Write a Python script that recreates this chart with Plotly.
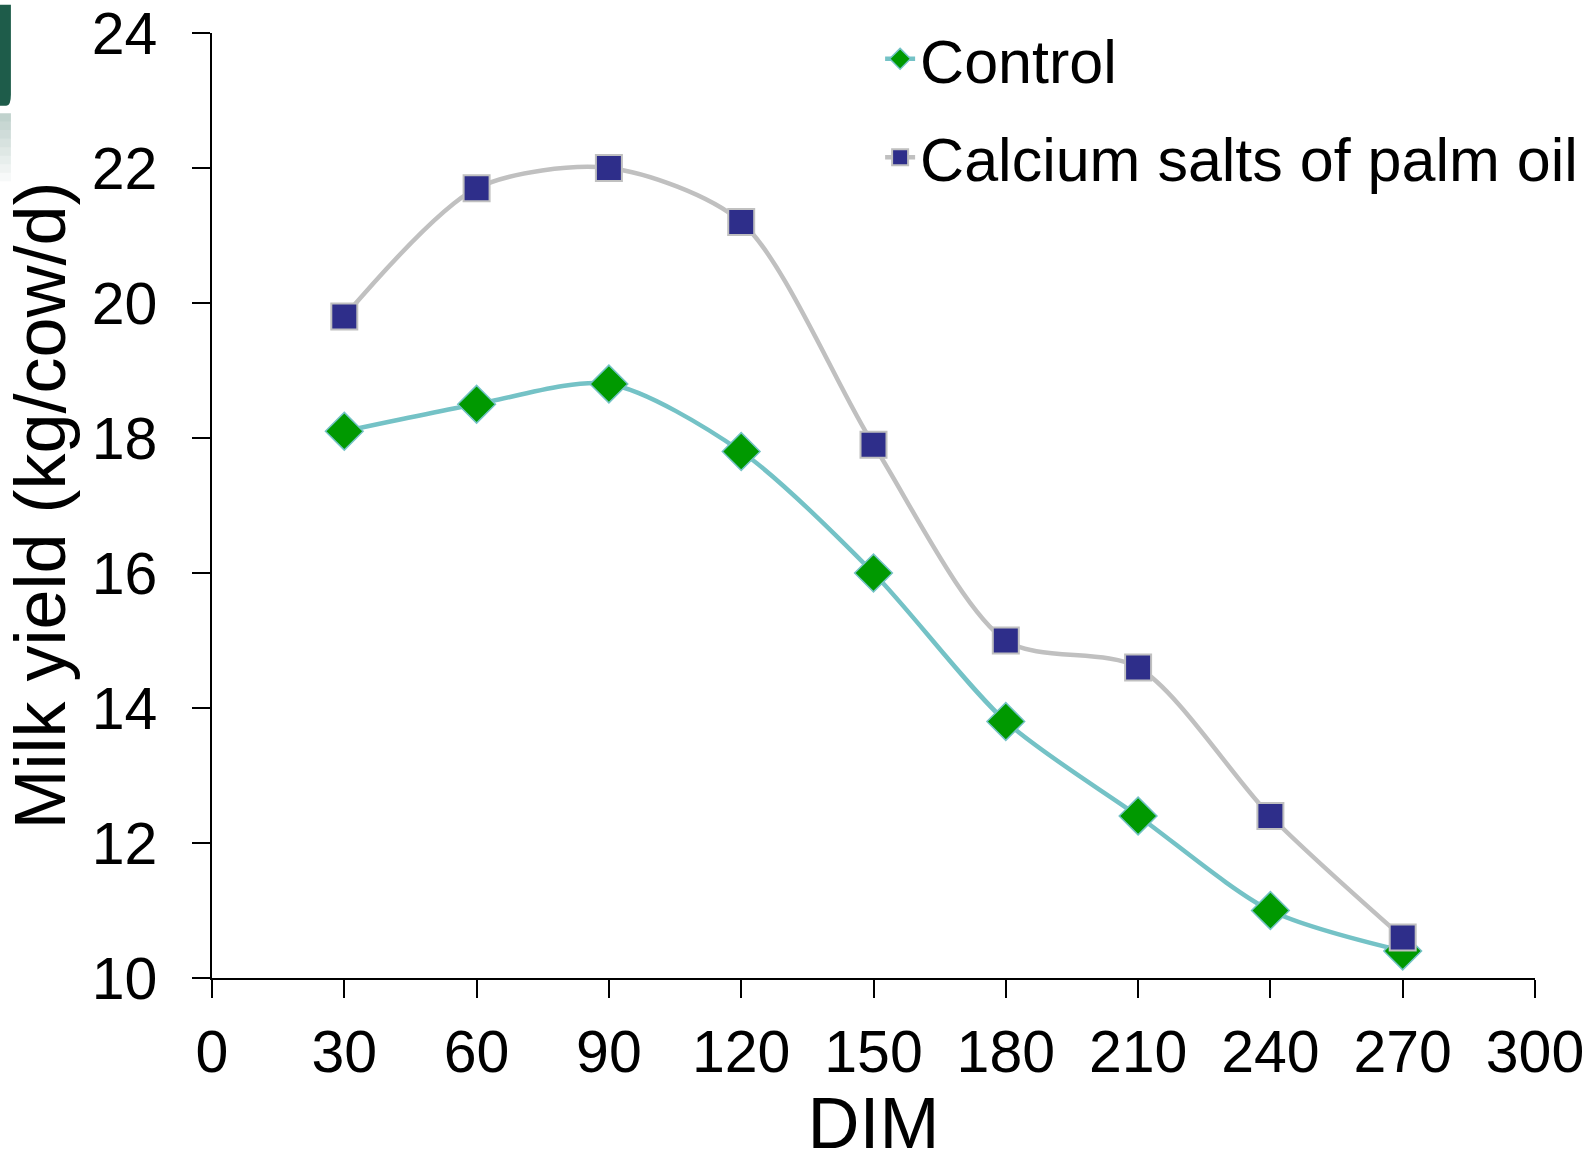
import plotly.graph_objects as go

dim = [30, 60, 90, 120, 150, 180, 210, 240, 270]
control = [18.1, 18.5, 18.8, 17.8, 16.0, 13.8, 12.4, 11.0, 10.4]
calcium = [19.8, 21.7, 22.0, 21.2, 17.9, 15.0, 14.6, 12.4, 10.6]
x_ticks = [0, 30, 60, 90, 120, 150, 180, 210, 240, 270, 300]
y_ticks = [10, 12, 14, 16, 18, 20, 22, 24]

FONT = "Liberation Sans, Arial, sans-serif"

fig = go.Figure()
fig.add_trace(go.Scatter(
    x=dim, y=control, name="Control", mode="lines+markers",
    line=dict(color="#74C2C6", width=4.5, shape="spline", smoothing=0.8),
    marker=dict(symbol="diamond", size=29, color="#009900",
                line=dict(color="#74C2C6", width=1.5)),
    legendgroup="a",
))
fig.add_trace(go.Scatter(
    x=dim, y=calcium, name="Calcium salts of palm oil", mode="lines+markers",
    line=dict(color="#C0C0C0", width=4.5, shape="spline", smoothing=0.8),
    marker=dict(symbol="square", size=26, color="#2E2E8A",
                line=dict(color="#C0C0C0", width=2)),
    legendgroup="b",
))

axis_common = dict(
    showgrid=False, zeroline=False, showline=True, linecolor="black", linewidth=1.5,
    ticks="outside", ticklen=18, tickwidth=1.5, tickcolor="black",
    tickfont=dict(family=FONT, size=59, color="black"),
)

fig.update_xaxes(range=[0, 300], tickvals=x_ticks, ticktext=[str(v) for v in x_ticks],
                 title=dict(text="DIM", font=dict(family=FONT, size=72, color="black"), standoff=25),
                 ticklabelstandoff=3, **axis_common)
fig.update_yaxes(range=[10, 24], tickvals=y_ticks, ticktext=[str(v) for v in y_ticks],
                 title=dict(text="Milk yield (kg/cow/d)", font=dict(family=FONT, size=72, color="black"), standoff=14),
                 ticklabelstandoff=23, **axis_common)

fig.update_layout(
    width=1591, height=1163,
    margin=dict(l=212, r=56, t=33, b=185, autoexpand=False),
    paper_bgcolor="white", plot_bgcolor="white",
    showlegend=True,
    legend=dict(x=0.505, y=1.0215, xanchor="left", yanchor="top",
                font=dict(family=FONT, size=61, color="black"),
                traceorder="grouped", tracegroupgap=16, bgcolor="rgba(0,0,0,0)",
                itemsizing="trace"),
)

# decorative dark green tab at the top-left edge, with a fading reflection
fig.add_shape(type="path", xref="paper", yref="paper",
              path="M -0.2 1.03 L -0.152 1.03 L -0.152 0.935 Q -0.152 0.923 -0.1555 0.923 L -0.2 0.923 Z",
              fillcolor="#1E5C4A", line=dict(width=0), layer="above")
for i in range(8):
    fig.add_shape(type="rect", xref="paper", yref="paper",
                  x0=-0.2, x1=-0.152, y0=0.915 - (i + 1) * 0.009, y1=0.915 - i * 0.009,
                  fillcolor="#1E5C4A", opacity=max(0.0, 0.28 - i * 0.035),
                  line=dict(width=0))

fig.write_html("out.html")
